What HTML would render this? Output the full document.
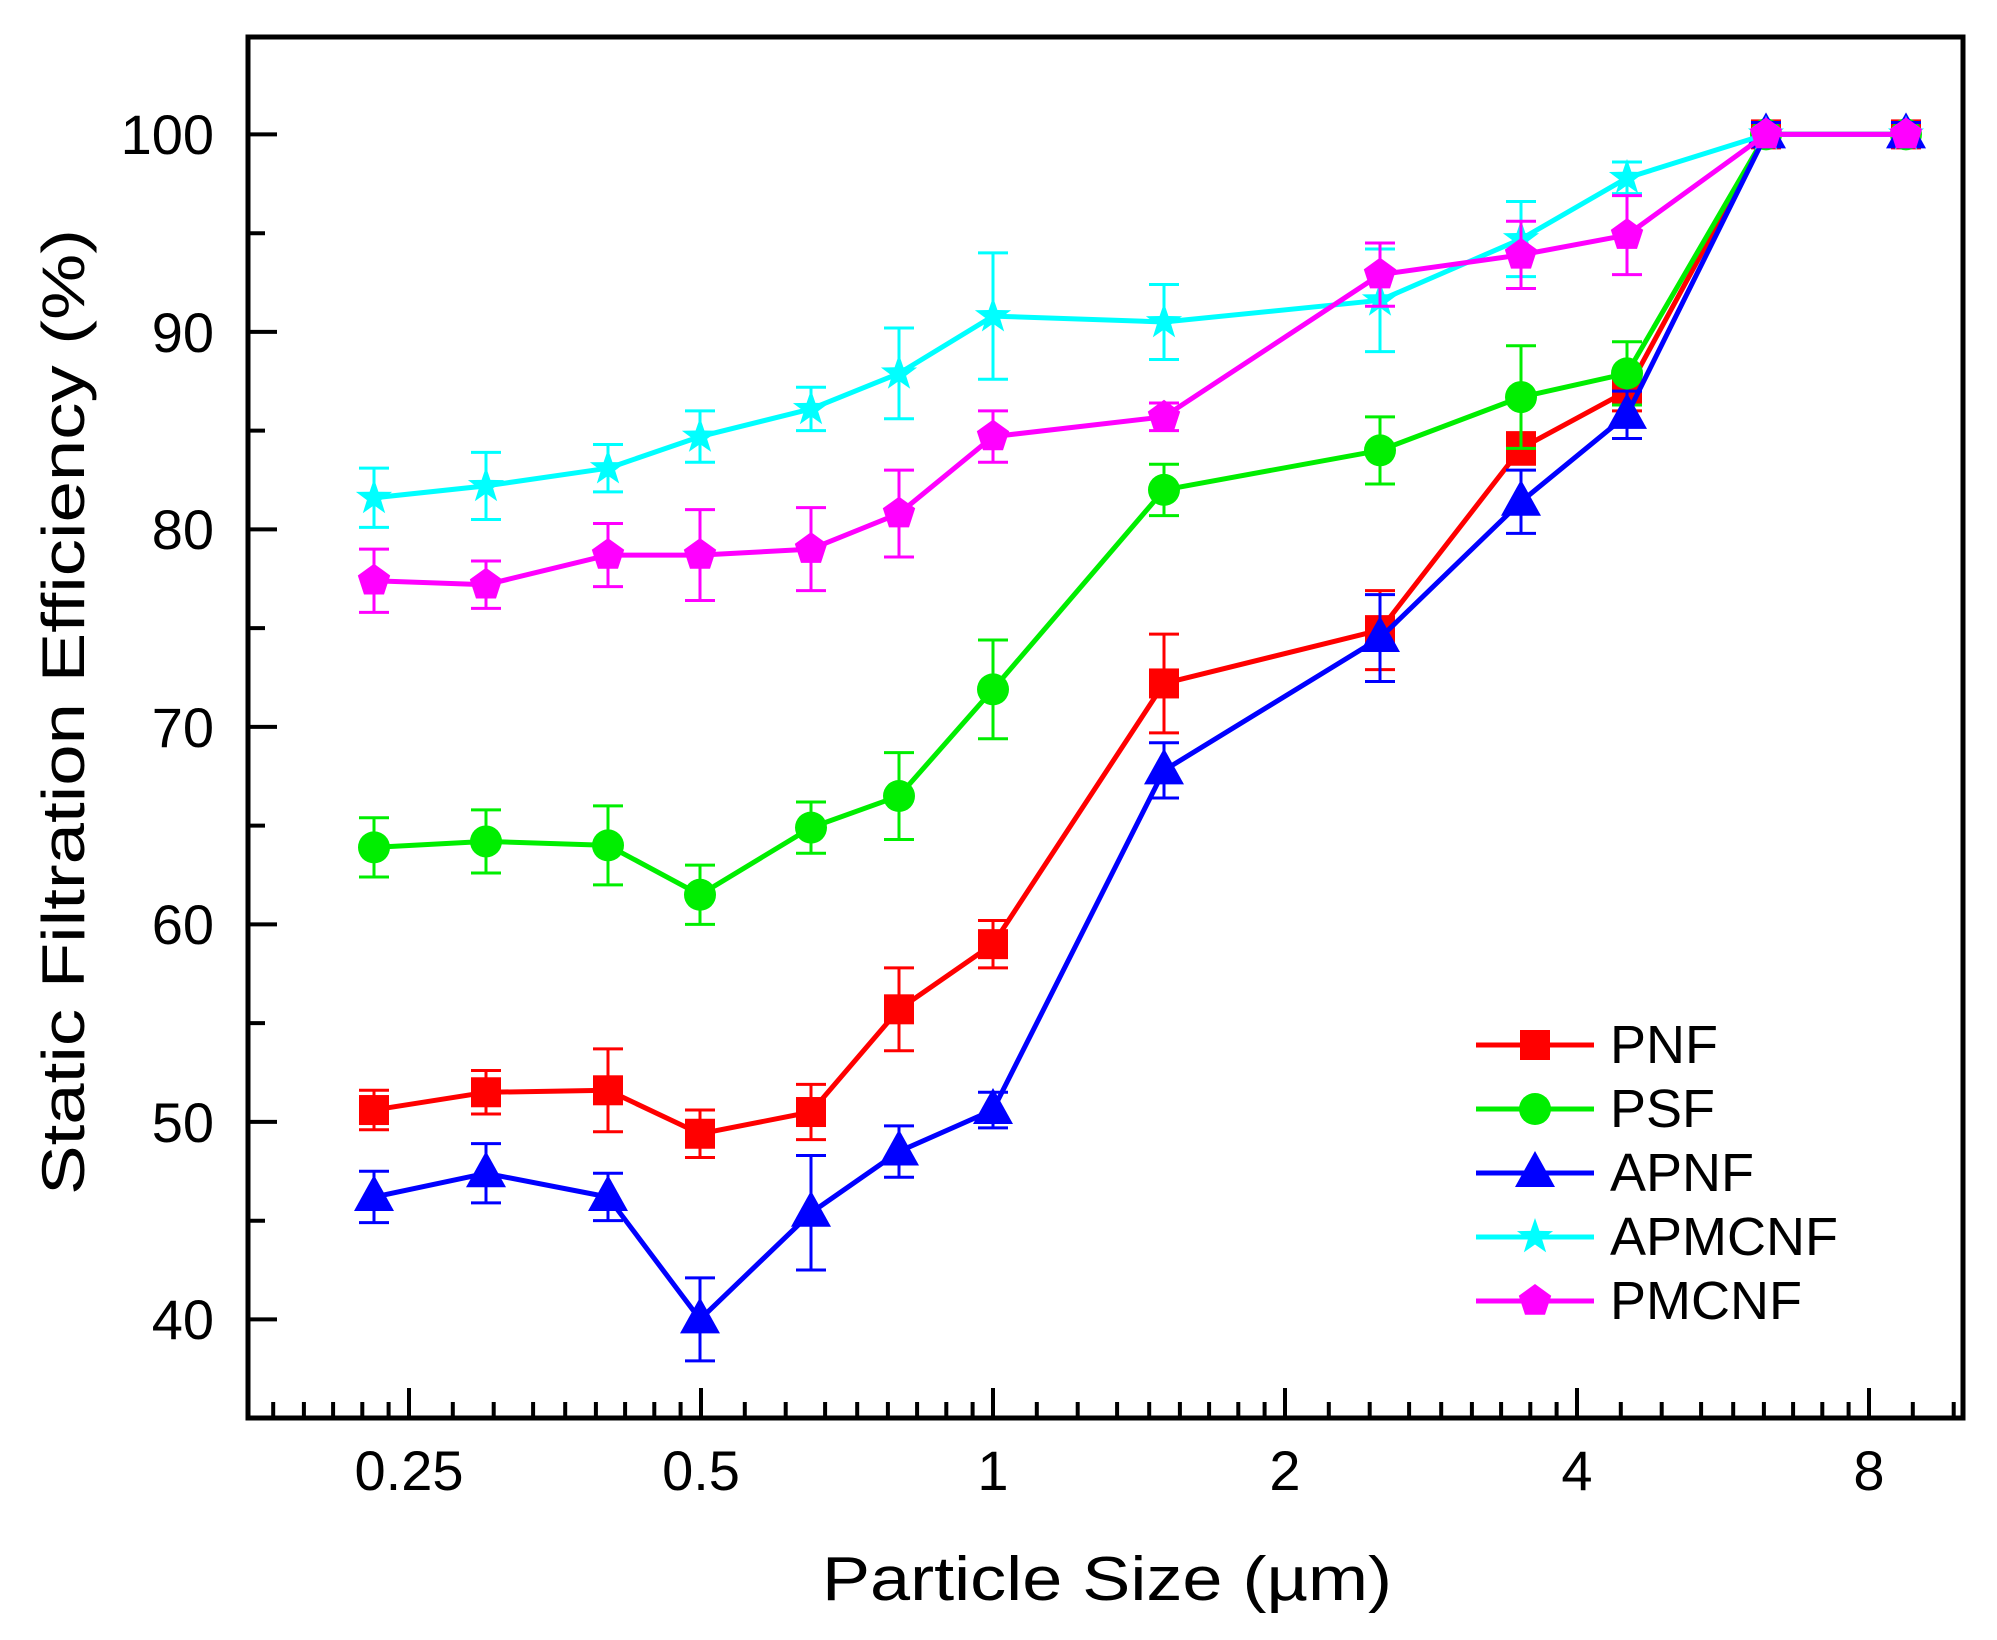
<!DOCTYPE html>
<html><head><meta charset="utf-8"><style>
html,body{margin:0;padding:0;background:#fff;}
svg{display:block;}
text{font-family:"Liberation Sans",Arial,sans-serif;fill:#000;}
</style></head><body>
<svg id="s" width="1997" height="1640" viewBox="0 0 1997 1640" xmlns="http://www.w3.org/2000/svg">
<rect x="0" y="0" width="1997" height="1640" fill="#fff"/>
<g id="plot"></g>
<rect x="248" y="37" width="1715" height="1381" fill="none" stroke="#000" stroke-width="5"/>
<g id="ticks" stroke="#000" stroke-width="4"></g>
<g font-size="56" text-anchor="end">
<text x="214" y="154">100</text>
<text x="214" y="352">90</text>
<text x="214" y="549">80</text>
<text x="214" y="747">70</text>
<text x="214" y="944">60</text>
<text x="214" y="1142">50</text>
<text x="214" y="1339">40</text>
</g>
<g font-size="56" text-anchor="middle">
<text x="409" y="1490">0.25</text>
<text x="701" y="1490">0.5</text>
<text x="993" y="1490">1</text>
<text x="1285" y="1490">2</text>
<text x="1577" y="1490">4</text>
<text x="1869" y="1490">8</text>
</g>
<text x="1107" y="1600" font-size="62" text-anchor="middle" textLength="570" lengthAdjust="spacingAndGlyphs">Particle Size (µm)</text>
<text transform="translate(84,712) rotate(-90)" font-size="60" text-anchor="middle" textLength="966" lengthAdjust="spacingAndGlyphs">Static Filtration Efficiency (%)</text>
<g id="legend"></g>
<g font-size="54">
<text x="1610" y="1063">PNF</text>
<text x="1610" y="1127">PSF</text>
<text x="1610" y="1191">APNF</text>
<text x="1610" y="1255">APMCNF</text>
<text x="1610" y="1319">PMCNF</text>
</g>
</svg>
<script>
var NS="http://www.w3.org/2000/svg";
function el(p,n,a){var e=document.createElementNS(NS,n);for(var k in a)e.setAttribute(k,a[k]);p.appendChild(e);return e;}
var X=[374,486,608,700,811,899,993,1164,1380,1521,1627,1766,1906];
function Y(v){return 134.4+(100-v)*19.75;}
var S=[
{c:"#ff0000",m:"sq",v:[50.6,51.5,51.6,49.4,50.5,55.7,59.0,72.2,74.9,84.1,87.0,100,100],e:[1,1.1,2.1,1.2,1.4,2.1,1.2,2.5,2,0.8,1,0,0]},
{c:"#00ee00",m:"ci",v:[63.9,64.2,64.0,61.5,64.9,66.5,71.9,82.0,84.0,86.7,87.9,100,100],e:[1.5,1.6,2,1.5,1.3,2.2,2.5,1.3,1.7,2.6,1.6,0,0]},
{c:"#0000ff",m:"tr",v:[46.2,47.4,46.2,40.0,45.4,48.5,50.6,67.8,74.5,81.4,85.8,100,100],e:[1.3,1.5,1.2,2.1,2.9,1.3,0.9,1.4,2.2,1.6,1.2,0.6,0.6]},
{c:"#00ffff",m:"st",v:[81.6,82.2,83.1,84.7,86.1,87.9,90.8,90.5,91.6,94.7,97.8,100,100],e:[1.5,1.7,1.2,1.3,1.1,2.3,3.2,1.9,2.6,1.9,0.8,0,0]},
{c:"#ff00ff",m:"pe",v:[77.4,77.2,78.7,78.7,79.0,80.8,84.7,85.7,92.9,93.9,94.9,100,100],e:[1.6,1.2,1.6,2.3,2.1,2.2,1.3,0.7,1.6,1.7,2,0,0]}
];
function marker(g,m,x,y,c){
 if(m=="sq")el(g,"rect",{x:x-15,y:y-15,width:30,height:30,fill:c});
 else if(m=="ci")el(g,"circle",{cx:x,cy:y,r:16,fill:c});
 else if(m=="tr")el(g,"polygon",{points:(x)+","+(y-22)+" "+(x-20)+","+(y+14)+" "+(x+20)+","+(y+14),fill:c});
 else{var n=5,pts=[],R=m=="st"?19:17,r=m=="st"?7.5:17*Math.cos(Math.PI/5);
  for(var i=0;i<2*n;i++){var a=-Math.PI/2+i*Math.PI/n;var rr=(i%2==0)?R:(m=="st"?r:null);
   if(m=="pe"&&i%2==1)continue;pts.push((x+rr*Math.cos(a)).toFixed(1)+","+(y+rr*Math.sin(a)).toFixed(1));}
  el(g,"polygon",{points:pts.join(" "),fill:c});}
}
var P=document.getElementById("plot");
S.forEach(function(s){
 var g=el(P,"g",{});
 var d=s.v.map(function(v,i){return (i?"L":"M")+X[i]+","+Y(v).toFixed(1);}).join("");
 el(g,"path",{d:d,fill:"none",stroke:s.c,"stroke-width":5,"stroke-linejoin":"round"});
 s.v.forEach(function(v,i){var e=s.e[i];if(e>0){var y1=Y(v+e),y2=Y(v-e);
  el(g,"path",{d:"M"+X[i]+","+y1+"V"+y2+"M"+(X[i]-15)+","+y1+"h30M"+(X[i]-15)+","+y2+"h30",stroke:s.c,"stroke-width":3,fill:"none"});}
  marker(g,s.m,X[i],Y(v),s.c);});
});
var L=document.getElementById("legend");
S.forEach(function(s,k){var y=1045+64*k;
 el(L,"line",{x1:1476,x2:1594,y1:y,y2:y,stroke:s.c,"stroke-width":5});
 marker(L,s.m,1535,y,s.c);});
var T=document.getElementById("ticks"),d="";
for(var v=35;v<=104;v+=5){var y=Y(v);d+="M250,"+y.toFixed(1)+"h"+(v%10==0?27:15);}
var F=[0.15,0.29,0.425,0.535,0.64,0.74,0.84,0.93];
for(var o=-1;o<=5;o++){var b=409+292*o;
 if(o>=0)d+="M"+b+",1416v-28";
 F.forEach(function(f){var x=b+f*292;if(x>252&&x<1959)d+="M"+x.toFixed(1)+",1416v-14";});}
el(T,"path",{d:d,fill:"none"});
</script>
</body></html>
